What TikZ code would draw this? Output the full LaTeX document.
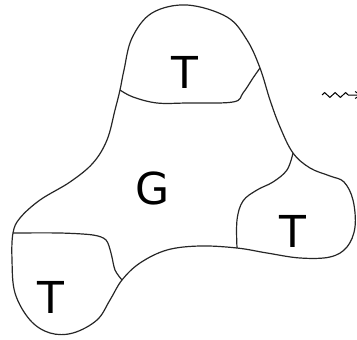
\documentclass[tikz,border=0pt]{standalone}
\usepackage{fontspec}
\setsansfont{DejaVu Sans}
\usetikzlibrary{decorations.pathmorphing,arrows.meta}
\begin{document}
\begin{tikzpicture}[x=1pt,y=-1pt,
  outline/.style={line width=1.2pt,black!85},
  region/.style={font=\sffamily\fontsize{44}{44}\selectfont,inner sep=0pt},
  squiggle/.style={line width=1pt,decorate,
    decoration={zigzag,segment length=10.5pt,amplitude=2.4pt,post length=9pt},
    -{Straight Barb[length=5pt,width=7pt]}}]
\useasboundingbox (0,0) rectangle (357,340);

% junction points where the dividers meet the outline
\coordinate (tl) at (120,90);
\coordinate (tr) at (260,68);
\coordinate (rt) at (293,153);
\coordinate (rb) at (237,248);
\coordinate (bl) at (13,233);
\coordinate (br) at (122,280);

% outer boundary
\draw[outline] plot[smooth cycle,tension=0.6] coordinates {
  (187,5) (227,17) (247,40) (tr) (270,100) (280,127) (rt) (310,168)
  (330,176) (344,182) (353,200) (355,227) (347,247) (330,257) (300,258)
  (267,253) (rb) (200,246) (167,250) (140,263) (br) (110,300) (97,320)
  (73,333) (50,333) (30,320) (15,293) (12,260) (bl) (20,218) (40,200)
  (70,182) (93,163) (107,140) (115,110) (tl) (124,70) (132,38) (152,13)};

% dividers
\draw[outline] plot[smooth,tension=0.6] coordinates {
  (tl) (133,97) (157,103) (187,103) (233,102) (243,93) (253,78) (tr)};
\draw[outline] plot[smooth,tension=0.6] coordinates {
  (rt) (287,170) (273,182) (257,190) (243,201) (237,220) (rb)};
\draw[outline] plot[smooth,tension=0.5] coordinates {
  (bl) (60,233) (93,235) (106,240) (111,253) (115,270) (br)};

% labels
\node[region] (t1) at (185,72) {T};
\node[region] (g)  at (153,188) {G};
\node[region] (t2) at (293,231) {T};
\node[region] (t3) at (51,297) {T};

% outgoing squiggly arrow
\coordinate (s0) at (322,95);
\coordinate (s1) at (361,95);
\draw[squiggle] (s0) -- (s1);
\end{tikzpicture}
\end{document}
